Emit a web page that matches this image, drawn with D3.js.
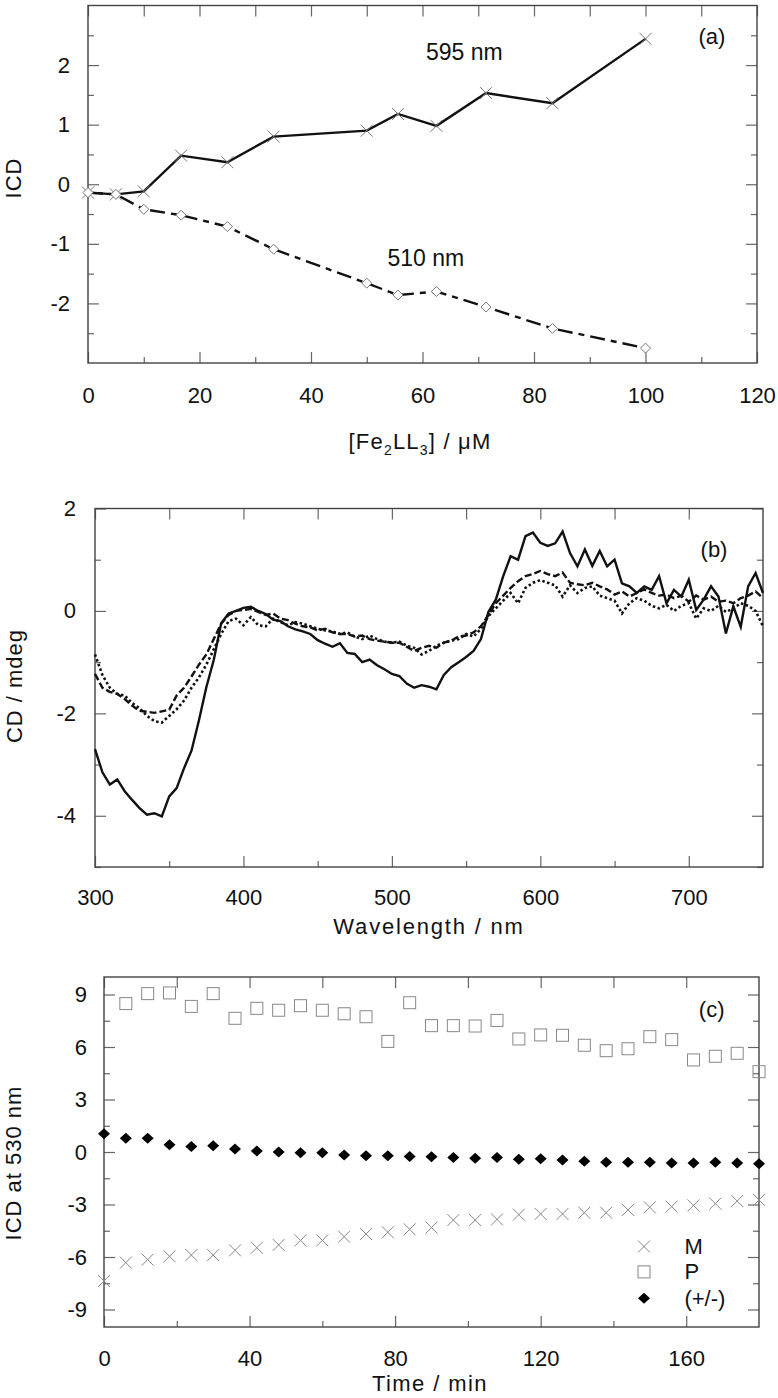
<!DOCTYPE html>
<html><head><meta charset="utf-8">
<script src="https://cdn.jsdelivr.net/npm/d3@7/dist/d3.min.js"></script>
<style>
body{margin:0;background:#fff;}
svg{display:block;font-family:"Liberation Sans",Arial,sans-serif;}
.tick text{font-size:22px;fill:#111;font-family:"Liberation Sans",Arial,sans-serif;}
.tick line{stroke:#666;stroke-width:1.2;}
</style></head>
<body>
<script>
// ---------- Panel (a) data ----------
const concA = [0, 5, 10, 16.7, 25, 33.3, 50, 55.6, 62.5, 71.4, 83.3, 100];
const icd595 = [-0.14, -0.17, -0.12, 0.48, 0.37, 0.80, 0.90, 1.18, 0.98, 1.53, 1.36, 2.44];
const icd510 = [-0.14, -0.17, -0.42, -0.52, -0.71, -1.09, -1.66, -1.86, -1.80, -2.06, -2.42, -2.75];
const ticksAX = [0, 20, 40, 60, 80, 100, 120];
const ticksAY = [-2, -1, 0, 1, 2];

// ---------- Panel (b) data ----------
const wavelength = [300,305,310,315,320,325,330,335,340,345,350,355,360,365,370,375,380,385,390,395,
400,405,410,415,420,425,430,435,440,445,450,455,460,465,470,475,480,485,490,495,
500,505,510,515,520,525,530,535,540,545,550,555,560,565,570,575,580,585,590,595,
600,605,610,615,620,625,630,635,640,645,650,655,660,665,670,675,680,685,690,695,
700,705,710,715,720,725,730,735,740,745,750];
const cdSolid = [-2.70,-3.15,-3.39,-3.29,-3.52,-3.69,-3.85,-3.98,-3.95,-4.01,-3.62,-3.46,-3.07,-2.73,-2.14,-1.49,-0.96,-0.24,-0.05,0.00,
0.06,0.08,0.00,-0.06,-0.17,-0.20,-0.30,-0.36,-0.40,-0.45,-0.57,-0.64,-0.70,-0.63,-0.82,-0.84,-1.00,-0.95,-1.06,-1.14,
-1.23,-1.27,-1.42,-1.50,-1.45,-1.48,-1.53,-1.25,-1.10,-1.00,-0.90,-0.78,-0.55,-0.02,0.22,0.68,1.07,1.00,1.46,1.53,
1.33,1.27,1.32,1.55,1.13,0.87,1.20,0.88,1.17,0.87,1.00,0.54,0.48,0.35,0.48,0.41,0.68,0.15,0.41,0.28,
0.61,0.02,0.22,0.48,0.28,-0.44,0.09,-0.31,0.48,0.74,0.35];
const cdDashed = [-1.23,-1.50,-1.58,-1.62,-1.72,-1.85,-1.95,-1.97,-1.99,-1.96,-1.93,-1.65,-1.50,-1.28,-1.05,-0.85,-0.55,-0.25,-0.08,0.00,
0.02,0.04,-0.02,-0.08,-0.05,-0.15,-0.18,-0.25,-0.30,-0.32,-0.38,-0.35,-0.42,-0.45,-0.45,-0.50,-0.48,-0.55,-0.58,-0.60,
-0.62,-0.62,-0.70,-0.78,-0.72,-0.68,-0.72,-0.62,-0.58,-0.50,-0.48,-0.42,-0.30,-0.08,0.15,0.30,0.45,0.58,0.68,0.72,
0.78,0.72,0.68,0.75,0.55,0.52,0.50,0.55,0.48,0.42,0.32,0.38,0.28,0.35,0.42,0.35,0.30,0.32,0.25,0.30,
0.18,0.30,0.22,0.28,0.18,0.20,0.15,0.25,0.30,0.38,0.25];
const cdDotted = [-0.85,-1.25,-1.50,-1.62,-1.65,-1.80,-1.90,-2.05,-2.15,-2.18,-2.05,-1.92,-1.75,-1.50,-1.30,-1.05,-0.75,-0.45,-0.20,-0.15,
-0.28,-0.12,-0.28,-0.30,-0.15,-0.22,-0.28,-0.22,-0.25,-0.30,-0.35,-0.38,-0.40,-0.45,-0.42,-0.50,-0.55,-0.48,-0.55,-0.60,
-0.62,-0.60,-0.68,-0.72,-0.85,-0.78,-0.68,-0.62,-0.58,-0.55,-0.45,-0.50,-0.35,-0.10,0.05,0.20,0.35,0.15,0.45,0.55,
0.60,0.55,0.50,0.28,0.50,0.35,0.45,0.48,0.30,0.25,0.20,-0.05,0.15,0.25,0.20,0.10,0.05,0.12,0.00,0.10,
0.15,-0.15,0.05,0.00,0.10,-0.02,0.05,0.15,0.10,0.00,-0.30];
const ticksBX = [300, 400, 500, 600, 700];
const ticksBY = [-4, -2, 0, 2];

// ---------- Panel (c) data ----------
const timeM = [0,6,12,18,24,30,36,42,48,54,60,66,72,78,84,90,96,102,108,114,120,126,132,138,144,150,156,162,168,174,180];
const icdM = [-7.37,-6.32,-6.15,-5.96,-5.89,-5.89,-5.62,-5.47,-5.31,-5.05,-5.05,-4.84,-4.69,-4.59,-4.42,-4.32,-3.89,-3.89,-3.85,-3.58,-3.54,-3.54,-3.47,-3.47,-3.31,-3.16,-3.12,-3.05,-2.95,-2.80,-2.74];
const timeP = [6,12,18,24,30,36,42,48,54,60,66,72,78,84,90,96,102,108,114,120,126,132,138,144,150,156,162,168,174,180];
const icdP = [8.48,9.05,9.09,8.32,9.05,7.64,8.21,8.10,8.36,8.10,7.90,7.73,6.32,8.53,7.22,7.22,7.20,7.52,6.46,6.69,6.67,6.10,5.79,5.90,6.59,6.42,5.26,5.47,5.64,4.59];
const icdRac = [1.05,0.78,0.78,0.42,0.32,0.36,0.17,0.06,0.00,-0.04,-0.04,-0.17,-0.21,-0.21,-0.25,-0.27,-0.32,-0.36,-0.32,-0.42,-0.38,-0.46,-0.53,-0.59,-0.59,-0.59,-0.63,-0.63,-0.59,-0.63,-0.67];
const ticksCX = [0, 40, 80, 120, 160];
const ticksCY = [-9, -6, -3, 0, 3, 6, 9];
const legendC = ["M", "P", "(+/-)"];

const W = 778, H = 1398;
const svg = d3.select("body").append("svg").attr("width", W).attr("height", H);
svg.append("rect").attr("width", W).attr("height", H).attr("fill", "#fff");

const fmt = d => String(d);
function frame(x, y, o) {
  const g = svg.append("g");
  const [x0, x1] = x.range(), [y0, y1] = y.range(); // y0 bottom
  const L = 11, S = 6;
  g.append("g").attr("transform", `translate(0,${y0})`)
    .call(d3.axisBottom(x).tickValues(o.xMajor).tickSize(-L).tickPadding(o.xPad).tickFormat(fmt));
  g.append("g").attr("transform", `translate(0,${y0})`)
    .call(d3.axisBottom(x).tickValues(o.xMinor).tickSize(-S).tickFormat(""));
  g.append("g").attr("transform", `translate(0,${y1})`)
    .call(d3.axisTop(x).tickValues(o.xMajor.concat(o.xMinor)).tickSize(-L).tickFormat(""));
  g.append("g").attr("transform", `translate(${x0},0)`)
    .call(d3.axisLeft(y).tickValues(o.yMajor).tickSize(-L).tickPadding(o.yPad).tickFormat(fmt));
  g.append("g").attr("transform", `translate(${x0},0)`)
    .call(d3.axisLeft(y).tickValues(o.yMinor).tickSize(-S).tickFormat(""));
  g.append("g").attr("transform", `translate(${x1},0)`)
    .call(d3.axisRight(y).tickValues(o.yMajor).tickSize(-L).tickFormat(""));
  g.append("g").attr("transform", `translate(${x1},0)`)
    .call(d3.axisRight(y).tickValues(o.yMinor).tickSize(-S).tickFormat(""));
  g.selectAll(".domain").remove();
  g.selectAll(".tick text").attr("font-size", null);
  g.append("rect").attr("x", x0).attr("y", y1).attr("width", x1 - x0).attr("height", y0 - y1)
    .attr("fill", "none").attr("stroke", "#444").attr("stroke-width", 1.4);
  return g;
}
function xTitle(cx, cy, parts, ls) {
  const t = svg.append("text").attr("x", cx).attr("y", cy).attr("text-anchor", "middle")
    .attr("font-size", 22).attr("letter-spacing", ls).attr("fill", "#111");
  parts.forEach(p => {
    const ts = t.append("tspan").text(p.t);
    if (p.sub) ts.attr("font-size", 14).attr("dy", 6);
    if (p.back) ts.attr("dy", -6);
  });
  return t;
}
function yTitle(cx, cy, txt) {
  svg.append("text").attr("transform", `translate(${cx},${cy}) rotate(-90)`)
    .attr("text-anchor", "middle").attr("dominant-baseline", "central")
    .attr("font-size", 22).attr("letter-spacing", "1px").attr("fill", "#111").text(txt);
}
const crossPath = s => `M${-s},${-s}L${s},${s}M${-s},${s}L${s},${-s}`;
const diamondPath = (w, h) => `M0,${-h}L${w},0L0,${h}L${-w},0Z`;

// ================= Panel (a) =================
const xa = d3.scaleLinear().domain([0, 120]).range([88, 757]);
const ya = d3.scaleLinear().domain([-3, 3]).range([363, 5.5]);
frame(xa, ya, {xMajor: ticksAX, xMinor: [10, 30, 50, 70, 90, 110], xPad: 24,
  yMajor: ticksAY, yMinor: [-2.5, -1.5, -0.5, 0.5, 1.5, 2.5], yPad: 18});
const A595 = concA.map((c, i) => [c, icd595[i]]);
const A510 = concA.map((c, i) => [c, icd510[i]]);
const lineA = d3.line().x(d => xa(d[0])).y(d => ya(d[1]));
svg.append("path").attr("d", lineA(A510)).attr("fill", "none").attr("stroke", "#111")
  .attr("stroke-width", 2.4).attr("stroke-dasharray", "15,6,6,6");
svg.append("path").attr("d", lineA(A595)).attr("fill", "none").attr("stroke", "#111").attr("stroke-width", 2.4);
svg.selectAll(".mA595").data(A595).enter().append("path")
  .attr("transform", d => `translate(${xa(d[0])},${ya(d[1])})`)
  .attr("d", crossPath(6)).attr("stroke", "#777").attr("stroke-width", 1).attr("fill", "none");
svg.selectAll(".mA510").data(A510).enter().append("path")
  .attr("transform", d => `translate(${xa(d[0])},${ya(d[1])})`)
  .attr("d", diamondPath(5, 5)).attr("stroke", "#777").attr("stroke-width", 1).attr("fill", "#fff");
svg.append("text").attr("x", xa(67.5)).attr("y", ya(2.08)).attr("text-anchor", "middle")
  .attr("font-size", 23).attr("fill", "#111").text("595 nm");
svg.append("text").attr("x", xa(60.6)).attr("y", ya(-1.37)).attr("text-anchor", "middle")
  .attr("font-size", 23).attr("fill", "#111").text("510 nm");
svg.append("text").attr("x", xa(111.9)).attr("y", ya(2.35)).attr("text-anchor", "middle")
  .attr("font-size", 22).attr("fill", "#111").text("(a)");
yTitle(13, 178, "ICD");
xTitle(420, 449, [{t: "[Fe"}, {t: "2", sub: true}, {t: "LL", back: true}, {t: "3", sub: true}, {t: "] / \u03bcM", back: true}], "1.2px");

// ================= Panel (b) =================
const xb = d3.scaleLinear().domain([300, 750]).range([95, 763]);
const yb = d3.scaleLinear().domain([-5, 2]).range([867, 508.5]);
frame(xb, yb, {xMajor: ticksBX, xMinor: [350, 450, 550, 650], xPad: 22,
  yMajor: ticksBY, yMinor: [-5, -3, -1, 1], yPad: 19});
const lineB = d3.line().x((d, i) => xb(wavelength[i])).y(d => yb(d));
svg.append("path").attr("d", lineB(cdDotted)).attr("fill", "none").attr("stroke", "#111")
  .attr("stroke-width", 2.6).attr("stroke-dasharray", "2.5,2.5");
svg.append("path").attr("d", lineB(cdDashed)).attr("fill", "none").attr("stroke", "#111")
  .attr("stroke-width", 2.4).attr("stroke-dasharray", "7,3");
svg.append("path").attr("d", lineB(cdSolid)).attr("fill", "none").attr("stroke", "#111").attr("stroke-width", 2.4);
svg.append("text").attr("x", xb(717)).attr("y", yb(1.05)).attr("text-anchor", "middle")
  .attr("font-size", 22).attr("fill", "#111").text("(b)");
yTitle(14, 686, "CD / mdeg");
xTitle(429, 934, [{t: "Wavelength / nm"}], "1.8px");

// ================= Panel (c) =================
const xc = d3.scaleLinear().domain([0, 180]).range([104, 759]);
const yc = d3.scaleLinear().domain([-10, 10]).range([1327, 977]);
frame(xc, yc, {xMajor: ticksCX, xMinor: [20, 60, 100, 140], xPad: 23,
  yMajor: ticksCY, yMinor: [-7.5, -4.5, -1.5, 1.5, 4.5, 7.5], yPad: 17});
const CM = timeM.map((t, i) => [t, icdM[i]]);
const CP = timeP.map((t, i) => [t, icdP[i]]);
const CR = timeM.map((t, i) => [t, icdRac[i]]);
svg.selectAll(".mCM").data(CM).enter().append("path")
  .attr("transform", d => `translate(${xc(d[0])},${yc(d[1])})`)
  .attr("d", crossPath(6)).attr("stroke", "#888").attr("stroke-width", 1).attr("fill", "none");
svg.selectAll(".mCP").data(CP).enter().append("rect")
  .attr("x", d => xc(d[0]) - 6).attr("y", d => yc(d[1]) - 6).attr("width", 12).attr("height", 12)
  .attr("stroke", "#888").attr("stroke-width", 1).attr("fill", "none");
svg.selectAll(".mCR").data(CR).enter().append("path")
  .attr("transform", d => `translate(${xc(d[0])},${yc(d[1])})`)
  .attr("d", diamondPath(6, 5.5)).attr("fill", "#000");
svg.append("text").attr("x", xc(167)).attr("y", yc(7.7)).attr("text-anchor", "middle")
  .attr("font-size", 22).attr("fill", "#111").text("(c)");
// legend
const legY = [-5.4, -6.85, -8.35];
const lx = xc(148.4);
legendC.forEach((name, i) => {
  const cy = yc(legY[i]);
  if (i === 0) svg.append("path").attr("transform", `translate(${lx},${cy})`).attr("d", crossPath(6))
    .attr("stroke", "#888").attr("stroke-width", 1).attr("fill", "none");
  if (i === 1) svg.append("rect").attr("x", lx - 6).attr("y", cy - 6).attr("width", 12).attr("height", 12)
    .attr("stroke", "#888").attr("stroke-width", 1).attr("fill", "none");
  if (i === 2) svg.append("path").attr("transform", `translate(${lx},${cy})`).attr("d", diamondPath(6, 5.5)).attr("fill", "#000");
  svg.append("text").attr("x", xc(159.5)).attr("y", cy).attr("dominant-baseline", "central")
    .attr("font-size", 22).attr("fill", "#111").text(name);
});
yTitle(13, 1163, "ICD at 530 nm");
xTitle(430, 1391, [{t: "Time / min"}], "1.4px");
</script>
</body></html>
